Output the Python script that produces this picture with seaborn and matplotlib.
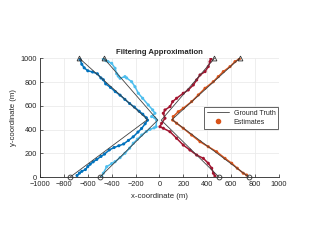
import seaborn as sns
import pandas as pd
import matplotlib.pyplot as plt
from matplotlib.lines import Line2D

# Target names and MATLAB-like colours
targets = ['t1', 't2', 't3', 't4']
colors = {'t1': '#0072BD', 't2': '#4DBEEE', 't3': '#A2142F', 't4': '#D95319'}

# Ground truth: start, turn, end
gt_x = {
    't1': [-750, -100, -670],
    't2': [-500, -15, -465],
    't3': [500, 15, 460],
    't4': [750, 105, 670],
}
gt_y = {
    't1': [0, 485, 1000],
    't2': [0, 480, 1000],
    't3': [0, 480, 1000],
    't4': [0, 485, 1000],
}

# Filter estimates
est_x = {
    't1': [-690, -670, -650, -620, -600, -580, -555, -525, -490, -460, -420, -380, -340, -300,
           -260, -220, -180, -150, -120, -100, -110, -140, -170, -210, -250, -290, -330, -370,
           -410, -450, -470, -490, -520, -560, -600, -630, -650, -665],
    't2': [-484, -470, -442, -400, -372, -330, -289, -250, -219, -185, -149, -110, -79, -45,
           -29, -24, -40, -66, -38, -57, -94, -141, -177, -205, -233, -275, -289, -330, -345,
           -358, -372, -400, -430, -448, -470],
    't3': [464, 451, 437, 408, 367, 311, 255, 199, 143, 88, 32, 4, 18, 46, 32, 46, 88, 110,
           143, 199, 241, 283, 311, 339, 381, 408, 423, 430],
    't4': [729, 701, 651, 604, 548, 478, 408, 339, 269, 199, 143, 110, 115, 157, 199, 269, 325,
           381, 450, 492, 534, 590, 632, 668],
}
est_y = {
    't1': [15, 35, 50, 65, 90, 110, 130, 150, 175, 195, 230, 250, 265, 280, 310, 340, 380, 410,
           450, 480, 500, 530, 555, 590, 620, 655, 690, 720, 755, 785, 820, 835, 870, 885, 895,
           920, 950, 990],
    't2': [5, 34, 89, 115, 131, 165, 202, 245, 286, 320, 355, 385, 403, 415, 425, 481, 500,
           510, 538, 566, 608, 664, 706, 761, 803, 835, 846, 832, 850, 870, 916, 958, 972, 980,
           995],
    't3': [11, 34, 76, 118, 159, 187, 229, 271, 328, 383, 412, 425, 454, 496, 538, 566, 594,
           636, 664, 706, 734, 776, 818, 860, 888, 930, 972, 995],
    't4': [19, 34, 76, 118, 159, 215, 257, 299, 355, 412, 454, 481, 510, 551, 580, 636, 692,
           748, 803, 846, 888, 930, 972, 995],
}

gt = pd.concat([pd.DataFrame({'x': gt_x[t], 'y': gt_y[t], 'target': t}) for t in targets],
               ignore_index=True)
est = pd.concat([pd.DataFrame({'x': est_x[t], 'y': est_y[t], 'target': t}) for t in targets],
                ignore_index=True)

sns.set_theme(style='whitegrid')
plt.rcParams['font.family'] = ['Liberation Sans', 'DejaVu Sans']

fig = plt.figure(figsize=(3.09, 2.44), dpi=100)
ax = fig.add_axes([0.1294, 0.2734, 0.7735, 0.4877])

# estimates: thin connecting line + dots
sns.lineplot(data=est, x='x', y='y', hue='target', palette=colors, sort=False,
             estimator=None, linewidth=1.1, legend=False, ax=ax)
sns.scatterplot(data=est, x='x', y='y', hue='target', palette=colors, s=5,
                linewidth=0, legend=False, ax=ax)

# ground truth
sns.lineplot(data=gt, x='x', y='y', hue='target', palette={t: '#404040' for t in targets},
             estimator=None, sort=False, linewidth=0.6, legend=False, ax=ax)
for t in targets:
    ax.plot(gt_x[t][0], gt_y[t][0], 'o', mfc='none', mec='#303030', ms=3.5, mew=0.6,
            clip_on=False, zorder=5)
    ax.plot(gt_x[t][-1], gt_y[t][-1], '^', mfc='none', mec='#303030', ms=3.5, mew=0.6,
            clip_on=False, zorder=5)

ax.set_xlim(-1000, 1000)
ax.set_ylim(0, 1000)
ax.set_xticks(range(-1000, 1001, 200))
ax.set_yticks(range(0, 1001, 200))
ax.grid(True, color='#ebebeb', linewidth=0.6)
ax.set_facecolor('white')
for s in ['top', 'right']:
    ax.spines[s].set_visible(False)
for s in ['left', 'bottom']:
    ax.spines[s].set_color('#262626')
    ax.spines[s].set_linewidth(0.6)
ax.tick_params(direction='in', length=2, width=0.5, labelsize=5.3,
               colors='#262626', left=True, bottom=True)
ax.tick_params(axis='x', pad=3)
ax.tick_params(axis='y', pad=2)

ax.set_title('Filtering Approximation', fontsize=5.6, fontweight='bold', pad=3)
ax.set_xlabel('x-coordinate (m)', fontsize=5.6, labelpad=3.5, color='#262626')
ax.set_ylabel('y-coordinate (m)', fontsize=5.6, labelpad=3, color='#262626')

handles = [Line2D([], [], color='#404040', linewidth=0.6),
           Line2D([], [], color=colors['t4'], marker='o', linestyle='none', ms=3)]
leg = ax.legend(handles, ['Ground Truth', 'Estimates'], loc='center right', fontsize=5,
                frameon=True, fancybox=False, edgecolor='#262626', framealpha=1,
                borderaxespad=0.1, handlelength=3.2, handletextpad=0.6, labelspacing=0.3)
leg.get_frame().set_linewidth(0.5)

fig.savefig('out.png', dpi=100)
